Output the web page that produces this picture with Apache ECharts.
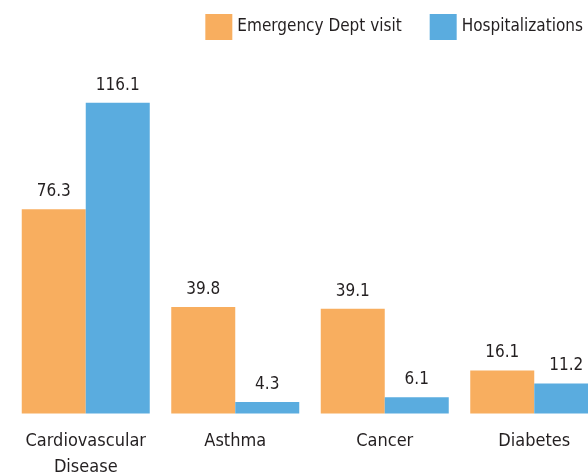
<!DOCTYPE html>
<html>
<head>
<meta charset="utf-8">
<style>
  html, body { margin: 0; padding: 0; background: #ffffff; }
  #chart { width: 588px; height: 475px; }
</style>
<script src="https://cdn.jsdelivr.net/npm/echarts@6/dist/echarts.min.js"></script>
</head>
<body>
<div id="chart"></div>
<script>
// Rates by condition
const categories = ['Cardiovascular\nDisease', 'Asthma', 'Cancer', 'Diabetes'];
const seriesNames = ['Emergency Dept visit', 'Hospitalizations'];
const edVisits = [76.3, 39.8, 39.1, 16.1];
const hospitalizations = [116.1, 4.3, 6.1, 11.2];

const FONT = '"DejaVu Sans Condensed", "Liberation Sans Narrow", sans-serif';
const TEXT = '#231f20';
const ORANGE = '#f8ae5f';
const BLUE = '#5aacdf';

const chart = echarts.init(document.getElementById('chart'), null, { renderer: 'canvas' });

const valueLabel = {
  show: true,
  position: 'top',
  distance: 9,
  color: TEXT,
  fontFamily: FONT,
  fontSize: 17
};

chart.setOption({
  animation: false,
  backgroundColor: '#ffffff',
  textStyle: { fontFamily: FONT, color: TEXT },
  legend: {
    right: 0,
    top: 9,
    width: 420,
    itemWidth: 27,
    itemHeight: 26,
    itemGap: 28,
    icon: 'rect',
    textStyle: { fontFamily: FONT, fontSize: 17, color: TEXT },
    data: seriesNames
  },
  grid: {
    left: 11,
    width: 598,
    top: 65.5,
    bottom: 61.5,
    containLabel: false,
    outerBoundsMode: 'none'
  },
  xAxis: {
    type: 'category',
    data: categories,
    axisLine: { show: false },
    axisTick: { show: false },
    axisLabel: {
      margin: 15,
      color: TEXT,
      fontFamily: FONT,
      fontSize: 18,
      lineHeight: 26,
      interval: 0
    }
  },
  yAxis: {
    type: 'value',
    min: 0,
    max: 130,
    show: false,
    splitLine: { show: false }
  },
  series: [
    {
      name: seriesNames[0],
      type: 'bar',
      data: edVisits,
      barWidth: 64,
      barGap: '0%',
      itemStyle: { color: ORANGE },
      label: valueLabel
    },
    {
      name: seriesNames[1],
      type: 'bar',
      data: hospitalizations,
      barWidth: 64,
      barGap: '0%',
      itemStyle: { color: BLUE },
      label: valueLabel
    }
  ]
});
</script>
</body>
</html>
